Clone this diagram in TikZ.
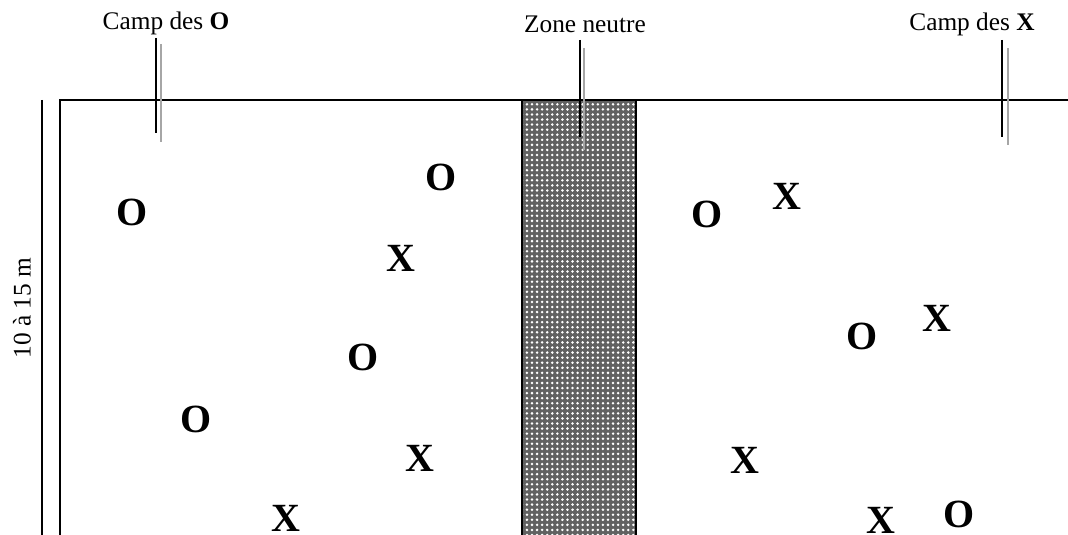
\documentclass[tikz,border=0pt]{standalone}
\usepackage{fontspec}
\setmainfont{Liberation Serif}
\usetikzlibrary{patterns.meta}
\begin{document}
\begin{tikzpicture}[x=0.75pt,y=-0.75pt,
  line/.style={line width=1.5pt,black},
  pole/.style={line width=1.5pt,black},
  polegray/.style={line width=1.3pt,gray!70},
  lbl/.style={font=\fontsize{19}{22}\selectfont,inner sep=0pt},
  pion/.style={font=\fontsize{30}{34}\selectfont\bfseries,inner sep=0pt}]
\useasboundingbox (0,0) rectangle (1068,535);
% neutral zone
\fill[black!62] (522,100) rectangle (636,540);
\fill[pattern={Dots[distance=3.8pt,radius=1.05pt]},pattern color=white] (522,100) rectangle (636,540);
\draw[line] (522,540) -- (522,100) (636,100) -- (636,540);
% field
\draw[line] (60,540) -- (60,100) -- (1070,100);
% measurement line
\draw[line] (42,100) -- (42,540);
\node[lbl,rotate=90] (dim) at (22,308) {10 à 15 m};
% labels
\node[lbl] (lO) at (166,23) {Camp des \textbf{O}};
\node[lbl] (lZ) at (585,24) {Zone neutre};
\node[lbl] (lX) at (972,24) {Camp des \textbf{X}};
% poles
\coordinate (pO1) at (156,38); \coordinate (pO2) at (156,133);
\coordinate (gO1) at (161,44); \coordinate (gO2) at (161,142);
\draw[pole] (pO1) -- (pO2);
\draw[polegray] (gO1) -- (gO2);
\coordinate (pZ1) at (580,40); \coordinate (pZ2) at (580,137);
\coordinate (gZ1) at (584,48); \coordinate (gZ2) at (584,150);
\draw[polegray] (gZ1) -- (gZ2);
\draw[pole] (pZ1) -- (pZ2);
\coordinate (pX1) at (1002,40); \coordinate (pX2) at (1002,137);
\coordinate (gX1) at (1008,48); \coordinate (gX2) at (1008,145);
\draw[pole] (pX1) -- (pX2);
\draw[polegray] (gX1) -- (gX2);
% pions
\node[pion] (o1) at (132,212) {O};
\node[pion] (o2) at (441,177) {O};
\node[pion] (x1) at (401,258) {X};
\node[pion] (o3) at (363,357) {O};
\node[pion] (o4) at (196,419) {O};
\node[pion] (x2) at (420,458) {X};
\node[pion] (x3) at (286,518) {X};
\node[pion] (o5) at (707,214) {O};
\node[pion] (x4) at (787,196) {X};
\node[pion] (o6) at (862,336) {O};
\node[pion] (x5) at (937,318) {X};
\node[pion] (x6) at (745,460) {X};
\node[pion] (x7) at (881,520) {X};
\node[pion] (o7) at (959,514) {O};
\end{tikzpicture}
\end{document}
